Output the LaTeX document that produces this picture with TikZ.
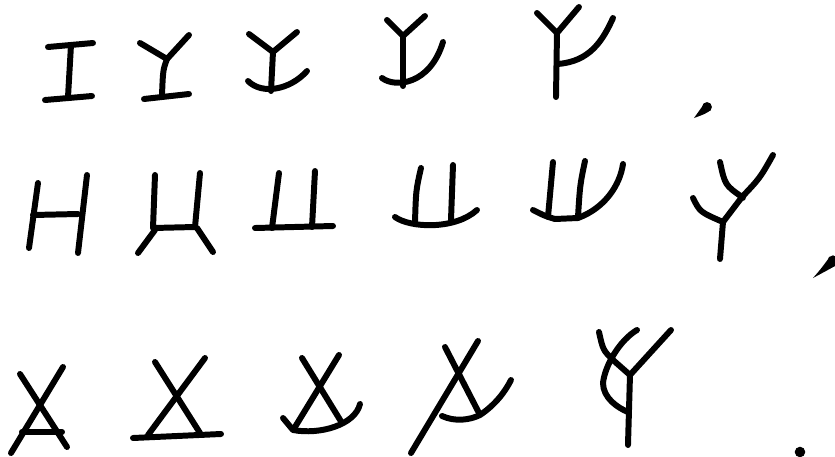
\documentclass[tikz,border=0pt]{standalone}
\usepackage{tikz}

\begin{document}
\begin{tikzpicture}[x=0.01cm, y=-0.01cm,
    stroke/.style={line width=1.7pt, line cap=round, line join=round},
    blob/.style={fill=black}]
    \useasboundingbox (0,0) rectangle (835,457);

    % first row
    \draw[stroke] (48,47) -- (93,43);
    \draw[stroke] (71,45) -- (68,97);
    \draw[stroke] (45,100) -- (92,96);

    \draw[stroke] (140,43) -- (167,59) -- (189,35);
    \draw[stroke] (167,59) .. controls (163,70) .. (162,95);
    \draw[stroke] (144,99) -- (189,94);

    \draw[stroke] (249,34) -- (273,52) -- (297,32);
    \draw[stroke] (273,52) -- (271,91);
    \draw[stroke] (248,81) .. controls (262,95) and (290,90) .. (307,71);

    \draw[stroke] (387,20) -- (403,36) -- (425,16);
    \draw[stroke] (403,36) -- (403,86);
    \draw[stroke] (382,78) .. controls (395,88) and (430,85) .. (443,42);

    \draw[stroke] (537,13) -- (557,33) -- (579,7);
    \draw[stroke] (557,33) -- (556,97);
    \draw[stroke] (557,64) .. controls (590,62) and (603,40) .. (613,18);

    \fill[blob] (707,107) circle (1.4pt);
    \fill[blob] (704,104) -- (711,110) .. controls (705,114) .. (694,118)
        .. controls (699,112) .. (704,104);

    % second row
    \draw[stroke] (38,183) -- (29,248);
    \draw[stroke] (87,175) -- (78,253);
    \draw[stroke] (33,215) -- (78,214);

    \draw[stroke] (155,175) -- (153,228) -- (195,227) .. controls (197,200) .. (200,173);
    \draw[stroke] (155,230) -- (138,253);
    \draw[stroke] (197,228) -- (213,252);

    \draw[stroke] (279,173) -- (272,228);
    \draw[stroke] (315,171) -- (312,227);
    \draw[stroke] (255,228) -- (333,226);

    \draw[stroke] (421,168) .. controls (416,190) .. (415,222);
    \draw[stroke] (453,165) -- (451,220);
    \draw[stroke] (395,217) .. controls (410,228) and (455,230) .. (477,210);

    \draw[stroke] (553,162) -- (548,217);
    \draw[stroke] (585,161) .. controls (580,185) .. (578,217);
    \draw[stroke] (533,210) .. controls (545,216) .. (555,219) -- (578,218)
        .. controls (605,208) and (620,185) .. (623,164);

    \draw[stroke] (720,162) .. controls (725,185) .. (742,197);
    \draw[stroke] (773,155) .. controls (760,178) .. (742,197) -- (723,222);
    \draw[stroke] (693,198) .. controls (700,212) .. (723,222);
    \draw[stroke] (723,222) -- (720,259);
    \fill[blob] (742,197) circle (1.2pt);

    \fill[blob] (833,261) circle (1.6pt);
    \fill[blob] (829,258) -- (835,266) .. controls (826,271) .. (813,278)
        .. controls (820,270) .. (829,258);

    % third row
    \draw[stroke] (20,374) -- (67,447);
    \draw[stroke] (63,367) -- (11,453);
    \draw[stroke] (22,432) -- (62,432);

    \draw[stroke] (155,362) -- (200,433);
    \draw[stroke] (205,358) -- (148,435);
    \draw[stroke] (133,438) -- (221,434);

    \draw[stroke] (302,358) -- (342,423);
    \draw[stroke] (339,355) -- (295,427);
    \draw[stroke] (283,418) -- (293,430) .. controls (320,435) and (355,425) .. (360,404);

    \draw[stroke] (445,347) -- (479,413);
    \draw[stroke] (478,341) -- (411,453);
    \draw[stroke] (442,416) .. controls (455,422) and (470,420) .. (480,415)
        .. controls (495,405) and (505,392) .. (511,380);

    \draw[stroke] (671,330) -- (630,375) -- (628,445);
    \draw[stroke] (599,332) .. controls (603,350) .. (613,360) -- (630,375);
    \draw[stroke] (637,330) .. controls (620,340) and (605,365) .. (603,383)
        .. controls (603,398) and (618,408) .. (628,412);

    \fill[blob] (800,452) circle (1.5pt);
\end{tikzpicture}
\end{document}
